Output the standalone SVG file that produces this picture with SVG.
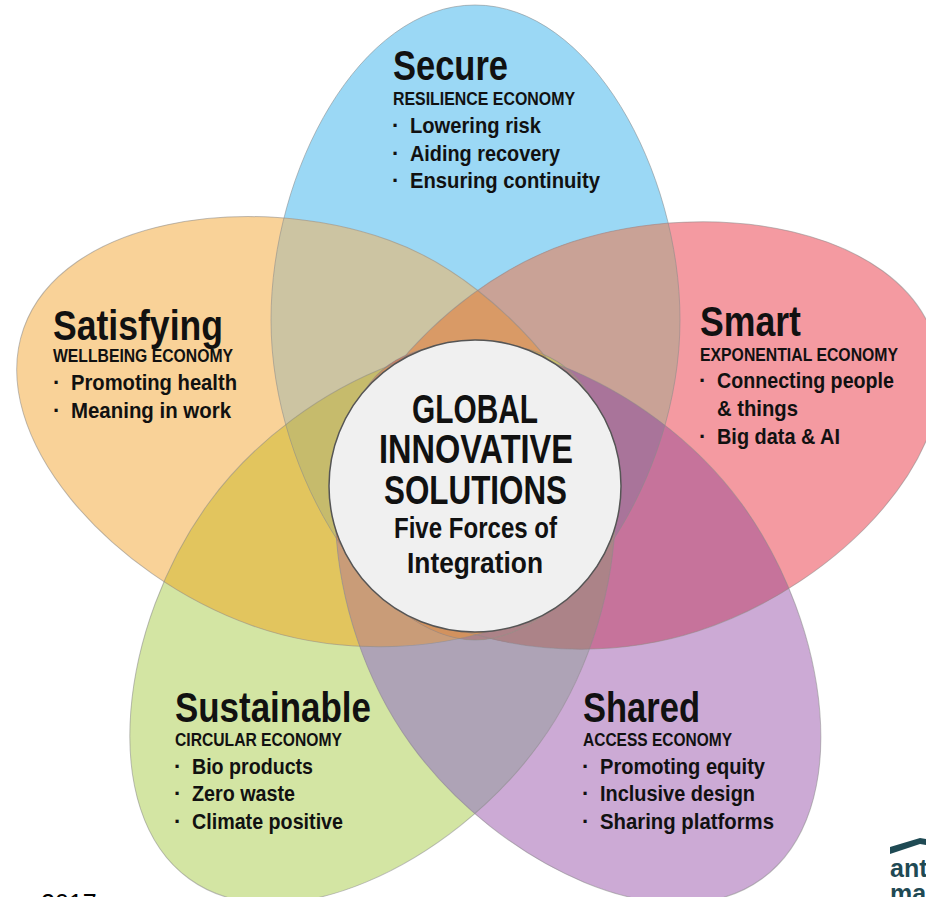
<svg xmlns="http://www.w3.org/2000/svg" width="926" height="897" viewBox="0 0 926 897">
<style>
text{font-family:"Liberation Sans Narrow","Liberation Sans",Arial,sans-serif;font-weight:700;fill:#111}
.l{fill:none;stroke:#8a8a8a;stroke-opacity:.55;stroke-width:1}
.t{font-size:42px}.s{font-size:19px}.b{font-size:22px}.c{font-size:40px}.f{font-size:29px}
</style>
<defs>
<path id="egg" d="M475 5C590 5 680 170 680 320C680 480 570 640 475 640C380 640 271 480 271 320C271 170 360 5 475 5Z"/>
<path id="eggO" d="M475 5C590 5 680 170 680 320C680 450 575 610 485 628C385 640 271 480 271 320C271 170 360 5 475 5Z"/>
<path id="eggP" d="M475 5C590 5 680 170 680 320C680 480 570 632 470 632C385 628 271 470 271 320C271 170 360 5 475 5Z"/>
<use id="pb" href="#egg"/>
<use id="pg" href="#egg" transform="translate(-2 0) rotate(-144 475 488)"/>
<use id="pu" href="#egg" transform="translate(3 0) rotate(144 475 488)"/>
<use id="pp" href="#eggP" transform="rotate(72 475 488)"/>
<use id="po" href="#eggO" transform="translate(4 1.5) rotate(-70.5 475 488)"/>
<clipPath id="cb"><use href="#egg"/></clipPath>
<clipPath id="cg"><use href="#egg" transform="translate(-2 0) rotate(-144 475 488)"/></clipPath>
<clipPath id="cu"><use href="#egg" transform="translate(3 0) rotate(144 475 488)"/></clipPath>
<clipPath id="cp"><use href="#eggP" transform="rotate(72 475 488)"/></clipPath>
<clipPath id="co"><use href="#eggO" transform="translate(4 1.5) rotate(-70.5 475 488)"/></clipPath>
<rect id="r" width="926" height="897"/>
</defs>
<rect width="926" height="897" fill="#fff"/>
<g id="petal-secure"><use href="#pb" fill="#9BD8F5"/></g>
<g id="petal-sustainable"><use href="#pg" fill="#D3E5A3"/></g>
<g id="petal-shared"><use href="#pu" fill="#CCAAD5"/></g>
<g id="petal-smart"><use href="#pp" fill="#F49AA1"/></g>
<g id="petal-satisfying"><use href="#po" fill="#F9D298"/></g>
<g id="overlaps">
<g clip-path="url(#cb)"><use href="#r" clip-path="url(#co)" fill="#CCC4A2"/></g>
<g clip-path="url(#cb)"><use href="#r" clip-path="url(#cp)" fill="#C9A296"/></g>
<g clip-path="url(#co)"><use href="#r" clip-path="url(#cg)" fill="#E2C55E"/></g>
<g clip-path="url(#cg)"><use href="#r" clip-path="url(#cu)" fill="#AEA3B6"/></g>
<g clip-path="url(#cu)"><use href="#r" clip-path="url(#cp)" fill="#C6739B"/></g>
<g clip-path="url(#cg)"><use href="#r" clip-path="url(#cp)" fill="#AC8388"/></g>
<g clip-path="url(#cb)"><use href="#r" clip-path="url(#cu)" fill="#A9749A"/></g>
<g clip-path="url(#cb)"><use href="#r" clip-path="url(#cg)" fill="#C6BB6C"/></g>
<g clip-path="url(#cb)"><g clip-path="url(#cg)"><use href="#r" clip-path="url(#cu)" fill="#AC8388"/></g></g>
<g clip-path="url(#co)"><use href="#r" clip-path="url(#cu)" fill="#C99C78"/></g>
<g clip-path="url(#co)"><use href="#r" clip-path="url(#cp)" fill="#D99A66"/></g>
<g clip-path="url(#co)"><g clip-path="url(#cp)"><use href="#r" clip-path="url(#cg)" fill="#D4A850"/></g></g>
<g clip-path="url(#cb)"><g clip-path="url(#co)"><use href="#r" clip-path="url(#cu)" fill="#C87E63"/></g></g>
<g clip-path="url(#cb)"><g clip-path="url(#co)"><g clip-path="url(#cg)"><use href="#r" clip-path="url(#cu)" fill="#D2925E"/></g></g></g>
</g>
<g id="outlines">
<use href="#pb" class="l"/><use href="#pg" class="l"/><use href="#pu" class="l"/><use href="#pp" class="l"/><use href="#po" class="l"/>
</g>
<g id="center">
<circle cx="475" cy="486" r="146" fill="#F0F0F0" stroke="#555" stroke-width="1.5"/>
<text class="c" x="412" y="423" textLength="126" lengthAdjust="spacingAndGlyphs">GLOBAL</text>
<text class="c" x="379" y="463" textLength="194" lengthAdjust="spacingAndGlyphs">INNOVATIVE</text>
<text class="c" x="384" y="504" textLength="183" lengthAdjust="spacingAndGlyphs">SOLUTIONS</text>
<text class="f" x="394" y="538" textLength="163" lengthAdjust="spacingAndGlyphs">Five Forces of</text>
<text class="f" x="407" y="573" textLength="136" lengthAdjust="spacingAndGlyphs">Integration</text>
</g>
<g id="secure">
<text class="t" x="393" y="80" textLength="115" lengthAdjust="spacingAndGlyphs">Secure</text>
<text class="s" x="393" y="105" textLength="182" lengthAdjust="spacingAndGlyphs">RESILIENCE ECONOMY</text>
<text class="b" x="392" y="133">·</text><text class="b" x="410" y="133" textLength="131" lengthAdjust="spacingAndGlyphs">Lowering risk</text>
<text class="b" x="392" y="161">·</text><text class="b" x="410" y="161" textLength="150" lengthAdjust="spacingAndGlyphs">Aiding recovery</text>
<text class="b" x="392" y="188">·</text><text class="b" x="410" y="188" textLength="190" lengthAdjust="spacingAndGlyphs">Ensuring continuity</text>
</g>
<g id="smart">
<text class="t" x="700" y="336" textLength="101" lengthAdjust="spacingAndGlyphs">Smart</text>
<text class="s" x="700" y="361" textLength="198" lengthAdjust="spacingAndGlyphs">EXPONENTIAL ECONOMY</text>
<text class="b" x="699" y="388">·</text><text class="b" x="717" y="388" textLength="177" lengthAdjust="spacingAndGlyphs">Connecting people</text>
<text class="b" x="717" y="416" textLength="81" lengthAdjust="spacingAndGlyphs">&amp; things</text>
<text class="b" x="699" y="444">·</text><text class="b" x="717" y="444" textLength="123" lengthAdjust="spacingAndGlyphs">Big data &amp; AI</text>
</g>
<g id="satisfying">
<text class="t" x="53" y="340" textLength="170" lengthAdjust="spacingAndGlyphs">Satisfying</text>
<text class="s" x="53" y="362" textLength="180" lengthAdjust="spacingAndGlyphs">WELLBEING ECONOMY</text>
<text class="b" x="53" y="390">·</text><text class="b" x="71" y="390" textLength="166" lengthAdjust="spacingAndGlyphs">Promoting health</text>
<text class="b" x="53" y="418">·</text><text class="b" x="71" y="418" textLength="160" lengthAdjust="spacingAndGlyphs">Meaning in work</text>
</g>
<g id="sustainable">
<text class="t" x="175" y="722" textLength="196" lengthAdjust="spacingAndGlyphs">Sustainable</text>
<text class="s" x="175" y="746" textLength="167" lengthAdjust="spacingAndGlyphs">CIRCULAR ECONOMY</text>
<text class="b" x="174" y="774">·</text><text class="b" x="192" y="774" textLength="121" lengthAdjust="spacingAndGlyphs">Bio products</text>
<text class="b" x="174" y="801">·</text><text class="b" x="192" y="801" textLength="103" lengthAdjust="spacingAndGlyphs">Zero waste</text>
<text class="b" x="174" y="829">·</text><text class="b" x="192" y="829" textLength="151" lengthAdjust="spacingAndGlyphs">Climate positive</text>
</g>
<g id="shared">
<text class="t" x="583" y="722" textLength="117" lengthAdjust="spacingAndGlyphs">Shared</text>
<text class="s" x="583" y="746" textLength="149" lengthAdjust="spacingAndGlyphs">ACCESS ECONOMY</text>
<text class="b" x="582" y="774">·</text><text class="b" x="600" y="774" textLength="165" lengthAdjust="spacingAndGlyphs">Promoting equity</text>
<text class="b" x="582" y="801">·</text><text class="b" x="600" y="801" textLength="155" lengthAdjust="spacingAndGlyphs">Inclusive design</text>
<text class="b" x="582" y="829">·</text><text class="b" x="600" y="829" textLength="174" lengthAdjust="spacingAndGlyphs">Sharing platforms</text>
</g>
<g id="logo">
<path d="M890 847L920 838L926 839V845L920 844L890 854Z" fill="#1F4A54"/>
<text x="890" y="877" style="font-family:'Liberation Sans',sans-serif;font-size:25px;fill:#1F4A54">ant</text>
<text x="890" y="902" style="font-family:'Liberation Sans',sans-serif;font-size:25px;fill:#1F4A54">ma</text>
</g>
<text id="year" x="41" y="912" style="font-family:'Liberation Sans',sans-serif;font-weight:400;font-size:25px;fill:#000">2017</text>
</svg>
